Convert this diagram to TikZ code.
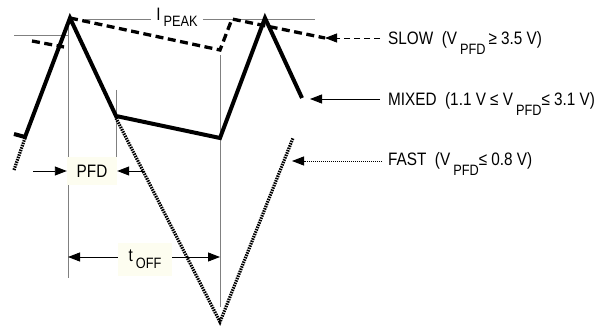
\documentclass[tikz,border=0pt]{standalone}
\usepackage{fontspec}
\setmainfont{Liberation Sans}[FakeStretch=0.85]
\usetikzlibrary{arrows.meta,positioning,calc}
\definecolor{ivory}{RGB}{253,253,240}
\newcommand{\mainsize}{\fontsize{18}{18}\selectfont}
\newcommand{\lowsub}[2][-10pt]{\raisebox{#1}{\fontsize{15}{15}\selectfont #2}}

\begin{document}
\begin{tikzpicture}[x=1pt,y=-1pt,
    mixed/.style={line width=4pt,line join=miter},
    slow/.style={line width=3.3pt,dash pattern=on 8pt off 4.5pt},
    fast/.style={line width=3.2pt,dash pattern=on 1.5pt off 1pt},
    guide/.style={gray,line width=0.9pt},
    tip/.style={-{Triangle[length=12pt,width=9pt]},line width=0.9pt},
    lbl/.style={anchor=base west,inner sep=0pt,font=\mainsize},
    tag/.style={fill=ivory,inner sep=0pt,font=\mainsize}]

    \useasboundingbox (0,0) rectangle (605,326);

    % waveform corners
    \coordinate (m0) at (14,134);
    \coordinate (m1) at (25,137);
    \coordinate (m2) at (70,18);
    \coordinate (m3) at (116,116);
    \coordinate (m4) at (220,138);
    \coordinate (m5) at (265,18);
    \coordinate (m6) at (302,98);
    \coordinate (s0) at (32,41);
    \coordinate (s1) at (64,47);
    \coordinate (s3) at (220,50);
    \coordinate (s4) at (232,19);
    \coordinate (s5) at (325,38);
    \coordinate (f0) at (14,170);
    \coordinate (f1) at (25,138);
    \coordinate (f3) at (116,118);
    \coordinate (f4) at (220,322);
    \coordinate (f5) at (293,138);

    % guide lines
    \draw[guide] (68,19) -- (68,278);
    \draw[guide] (116,90) -- (116,183);
    \draw[guide] (220,55) -- (220,307);
    \draw[guide] (14,35) -- (68,35);
    \node [font=\mainsize, inner xsep=5pt, inner ysep=0pt] (ipeak) at (177,17)
        {I\,\lowsub[-6pt]{PEAK}};
    \coordinate (pkL) at (85,19);
    \coordinate (pkR) at (315,19);
    \draw[guide] (pkL) -- (pkL -| ipeak.west);
    \draw[guide] (pkR -| ipeak.east) -- (pkR);

    % traces
    \draw[fast] (f0) -- (f1);
    \draw[fast] (f3) -- (f4) -- (f5);
    \draw[slow] (s0) -- (s1);
    \draw[slow] (m2) -- (s3) -- (s4) -- (s5);
    \draw[mixed] (m0) -- (m1) -- (m2) -- (m3) -- (m4) -- (m5) -- (m6);

    % PFD and tOFF
    \node [tag, minimum width=50pt, minimum height=27pt] (pfd) at (92,171) {PFD};
    \coordinate (pfdA) at (33,171);
    \coordinate (pfdB) at (145,171);
    \draw[tip] (pfdA) -- (pfd.west);
    \draw[tip] (pfdB) -- (pfd.east);
    \node [tag, minimum width=54pt, minimum height=33pt] (toff) at (145,259)
        {t\,\lowsub[-7pt]{OFF}};
    \coordinate (toffA) at (68,257);
    \coordinate (toffB) at (220,257);
    \draw[tip] (toff.west |- toffA) -- (toffA);
    \draw[tip] (toff.east |- toffB) -- (toffB);

    % legend
    \node [lbl] (slowlbl) at (388,45) {SLOW\ \ (V\,\lowsub{PFD}\,≥ 3.5 V)};
    \node [lbl] (mixedlbl) at (388,106) {MIXED\ \ (1.1 V ≤ V\,\lowsub{PFD}≤ 3.1 V)};
    \node [lbl] (fastlbl) at (388,165) {FAST\ \ (V\,\lowsub{PFD}≤ 0.8 V)};
    \coordinate (slowA) at (380,38);
    \coordinate (slowB) at (325,38);
    \coordinate (mixedA) at (380,99);
    \coordinate (mixedB) at (310,99);
    \coordinate (fastA) at (382,161);
    \coordinate (fastB) at (292,161);
    \draw[tip, dash pattern=on 6pt off 4pt] (slowA) -- (slowB);
    \draw[tip] (mixedA) -- (mixedB);
    \draw[tip, dash pattern=on 1pt off 1pt] (fastA) -- (fastB);
\end{tikzpicture}
\end{document}
